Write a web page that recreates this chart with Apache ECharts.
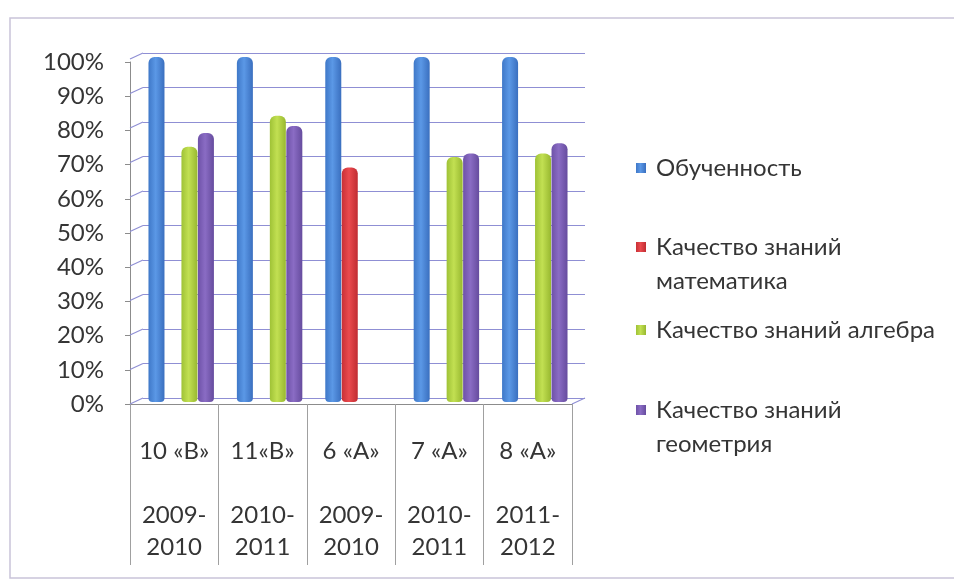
<!DOCTYPE html>
<html>
<head>
<meta charset="utf-8">
<script src="https://cdn.jsdelivr.net/npm/echarts@6/dist/echarts.min.js"></script>
<style>
html,body{margin:0;padding:0;background:#fff;}
#chart{width:954px;height:582px;}
</style>
</head>
<body>
<div id="chart"></div>
<script>
// ---- data ----
const classes = ['10 «В»', '11«В»', '6 «А»', '7 «А»', '8 «А»'];
const years = ['2009-\n2010', '2010-\n2011', '2009-\n2010', '2010-\n2011', '2011-\n2012'];
const seriesNames = ['Обученность', 'Качество знаний математика', 'Качество знаний алгебра', 'Качество знаний геометрия'];
const obuchennost = [100, 100, 100, 100, 100];
const matematika = [null, null, 68, null, null];
const algebra = [74, 83, null, 71, 72];
const geometria = [78, 80, null, 72, 75];
const yTicks = [0, 10, 20, 30, 40, 50, 60, 70, 80, 90, 100];

const FONT = 'Lato, "Open Sans", "Noto Sans", sans-serif';
const TXT = '#353535';
const FS = 24;

function cyl(c0, c1, c2) {
  return new echarts.graphic.LinearGradient(0, 0, 1, 0, [
    {offset: 0, color: c0}, {offset: 0.45, color: c1}, {offset: 1, color: c2}
  ]);
}
const colors = [
  cyl('#3f78c8', '#5b98e6', '#3a6fbf'),
  cyl('#c83036', '#ea4a4e', '#c02c32'),
  cyl('#9fc236', '#c2e052', '#98b830'),
  cyl('#6e52a8', '#8a6cc4', '#664c9e')
];

const catLabels = classes.map((c, i) => c + '\n\n' + years[i]);

const chart = echarts.init(document.getElementById('chart'));

function legendName(name) {
  if (name === 'Качество знаний математика') return '\nКачество знаний\nматематика';
  if (name === 'Качество знаний геометрия') return '\nКачество знаний\nгеометрия';
  return name;
}
function mkLegend(idx, top) {
  return {
    data: [seriesNames[idx]],
    left: 636, top: top, padding: 0,
    itemWidth: 10, itemHeight: 10, icon: 'rect',
    selectedMode: false,
    formatter: legendName,
    textStyle: {fontFamily: FONT, fontSize: FS, color: TXT, lineHeight: 34, padding: [0, 0, 0, 5]}
  };
}

const barData = [obuchennost, matematika, algebra, geometria];

const option = {
  animation: false,
  backgroundColor: '#fff',
  graphic: [{
    type: 'polyline', silent: true,
    shape: {points: [[970, 18], [10, 18], [10, 578], [970, 578]]},
    style: {stroke: '#c9c3d9', lineWidth: 1.5, fill: null}
  }],
  legend: [mkLegend(0, 151), mkLegend(1, 196), mkLegend(2, 313), mkLegend(3, 359)],
  grid: [
    {left: 130, right: 382, top: 62, bottom: 178},   // front axes
    {left: 143, right: 369, top: 53, bottom: 184},   // back wall
    {left: 137, right: 375, top: 57, bottom: 180}    // bars
  ],
  xAxis: [
    {
      gridIndex: 0, type: 'category', data: catLabels,
      axisLine: {lineStyle: {color: '#8c8c8c'}},
      axisTick: {show: true, length: 161, lineStyle: {color: '#a0a0a0'}},
      axisLabel: {interval: 0, margin: 31, fontFamily: FONT, fontSize: FS, color: TXT, lineHeight: 32}
    },
    {gridIndex: 1, type: 'value', min: 0, max: 1, show: false},
    {gridIndex: 2, type: 'category', data: classes, show: false}
  ],
  yAxis: [
    {
      gridIndex: 0, type: 'value', min: 0, max: 100, interval: 10,
      axisLine: {show: true, lineStyle: {color: '#8c8c8c'}},
      axisTick: {show: true, length: 5, lineStyle: {color: '#8c8c8c'}},
      splitLine: {show: false},
      axisLabel: {margin: 26, formatter: '{value}%', fontFamily: FONT, fontSize: FS, color: TXT}
    },
    {
      gridIndex: 1, type: 'value', min: 0, max: 100, interval: 10,
      axisLine: {show: false}, axisTick: {show: false}, axisLabel: {show: false},
      splitLine: {show: true, lineStyle: {color: '#8f8fd4', width: 1.2}}
    },
    {gridIndex: 2, type: 'value', min: 0, max: 100, show: false}
  ],
  series: [
    {
      type: 'custom', xAxisIndex: 1, yAxisIndex: 1, silent: true, z: 1,
      data: yTicks.map(v => [0, v]),
      renderItem: function (params, api) {
        const v = api.value(1);
        const p = api.coord([0, v]);
        const children = [{
          type: 'line',
          shape: {x1: p[0] - 13, y1: p[1] + 6, x2: p[0], y2: p[1]},
          style: {stroke: '#8f8fd4', lineWidth: 1.2}
        }];
        if (v === 0) {
          const q = api.coord([1, 0]);
          children.push({
            type: 'line',
            shape: {x1: q[0] - 13, y1: q[1] + 6, x2: q[0], y2: q[1]},
            style: {stroke: '#8f8fd4', lineWidth: 1.2}
          });
        }
        return {type: 'group', children: children};
      }
    }
  ].concat(barData.map((d, i) => ({
    name: seriesNames[i], type: 'bar', xAxisIndex: 2, yAxisIndex: 2,
    data: d, barWidth: 16, barGap: '3%', barCategoryGap: '28%', z: 3,
    itemStyle: {color: colors[i], borderRadius: [6, 6, 4, 4]}
  })))
};
chart.setOption(option);
</script>
</body>
</html>
